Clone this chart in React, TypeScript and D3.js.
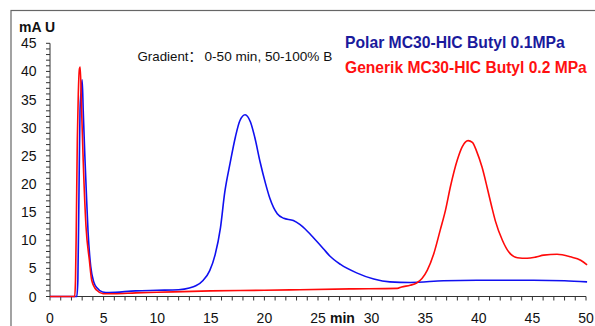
import React from 'react';
import { scaleLinear, line, curveMonotoneX, range } from 'd3';

// retention time (min) / absorbance (mAU)
const blueTime = [0, 2.5, 2.6, 2.7, 2.8, 2.9, 3.0, 3.1, 3.25, 3.4, 3.55, 3.8, 4.1, 4.4, 4.9, 5.5, 8, 10, 12, 13, 13.6, 14.3, 14.9, 15.4, 15.9, 16.3, 16.8, 17.3, 17.7, 18.2, 18.7, 19.1, 19.6, 20.1, 20.5, 21.2, 21.8, 22.7, 23.3, 23.8, 24.6, 25.5, 26.1, 27.1, 28.6, 30.2, 31.7, 33.6, 36.7, 39.8, 45.1, 48, 50.1];
const blueValue = [0, 0, 3, 18, 33, 36.5, 38.5, 33, 25, 18, 11.5, 5.3, 2.5, 1.5, 0.8, 0.7, 1.0, 1.1, 1.2, 1.5, 1.9, 2.9, 4.6, 7.4, 12.2, 18.5, 23.7, 28.4, 31.2, 32.3, 31.0, 28.3, 23.9, 20.1, 17.5, 14.7, 13.9, 13.5, 12.8, 12.0, 10.4, 8.5, 7.2, 5.7, 4.2, 3.1, 2.6, 2.5, 2.8, 2.9, 2.9, 2.8, 2.6];

const redTime = [0, 2.3, 2.38, 2.45, 2.55, 2.64, 2.75, 2.82, 2.95, 3.1, 3.36, 3.67, 3.89, 4.36, 4.95, 6, 8, 10, 15, 20, 23.3, 28, 32.4, 32.8, 33.6, 34.2, 34.7, 35.2, 35.8, 36.4, 36.9, 37.35, 38.0, 38.45, 39.0, 39.4, 39.8, 40.3, 40.8, 41.2, 41.55, 42.2, 42.8, 43.6, 44.5, 45.3, 46.06, 47.3, 48.55, 49.5, 50.1];
const redValue = [0, 0, 3, 12, 28, 36, 40.5, 40.8, 33, 24, 12.4, 6.5, 2.9, 1.1, 0.5, 0.5, 0.65, 0.75, 1.0, 1.1, 1.2, 1.35, 1.45, 1.7, 2.0, 2.4, 3.2, 4.7, 7.6, 11.8, 15.4, 19.5, 24.3, 26.6, 27.7, 27.4, 25.8, 23.0, 19.2, 16.0, 13.4, 10, 7.9, 6.9, 6.8, 7.0, 7.35, 7.5, 7.05, 6.45, 5.6];

const xTicks = [0, 5, 10, 15, 20, 25, 30, 35, 40, 45, 50];
const yTicks = [0, 5, 10, 15, 20, 25, 30, 35, 40, 45];

const legendBlue = 'Polar MC30-HIC Butyl 0.1MPa';
const legendRed = 'Generik MC30-HIC Butyl 0.2 MPa';
const gradientLabel = 'Gradient：';
const gradientRange = '0-50 min, 50-100% B';

const W = 595;
const H = 326;
const font = '"Liberation Sans", Arial, "Noto Sans CJK SC", sans-serif';

export default function App() {
    const x = scaleLinear().domain([0, 50]).range([50, 586]);
    const y = scaleLinear().domain([0, 45]).range([296.5, 43.3]);

    const trace = (ts: number[], vs: number[]) =>
        line<number>()
            .x((d, i) => x(ts[i]))
            .y((d) => y(d))
            .curve(curveMonotoneX)(vs) || '';

    const minorX = range(0, 51, 1);
    const minorY = range(0, 46, 1);

    return (
        <svg width={W} height={H} style={{ position: 'absolute', left: 0, top: 0, background: '#fff' }} fontFamily={font}>
            {/* outer frame, cut off by the image at right and bottom */}
            <rect x={11} y={10.5} width={620} height={340} fill="none" stroke="#666" strokeWidth={1.2} />

            {/* y axis */}
            <line x1={50} x2={50} y1={y(45)} y2={y(0)} stroke="#333" strokeWidth={1} />
            {minorY.map((v) => (
                <line key={'my' + v} x1={46} x2={50} y1={y(v)} y2={y(v)} stroke="#333" strokeWidth={1} />
            ))}
            {yTicks.map((v) => (
                <text key={'ty' + v} x={36.5} y={y(v)} dy="0.36em" textAnchor="end" fontSize={14} fill="#111">
                    {v}
                </text>
            ))}

            {/* x axis */}
            <line x1={x(0)} x2={x(50)} y1={y(0)} y2={y(0)} stroke="#333" strokeWidth={1} />
            {minorX.map((t) => (
                <line key={'mx' + t} x1={x(t)} x2={x(t)} y1={y(0)} y2={y(0) + 4} stroke="#333" strokeWidth={1} />
            ))}
            {xTicks.map((t) => (
                <text key={'tx' + t} x={x(t)} y={323} textAnchor="middle" fontSize={14} fill="#111">
                    {t}
                </text>
            ))}

            <text x={19} y={32} fontSize={14} fontWeight="bold" fill="#111">mA U</text>
            <text x={330} y={323} fontSize={14} fontWeight="bold" fill="#111">min</text>

            <text x={137.5} y={60.5} fontSize={13.3} fill="#111">{gradientLabel}</text>
            <text x={204.5} y={60.5} fontSize={13.6} fill="#111">{gradientRange}</text>
            <text x={345} y={48.3} fontSize={15.7} fontWeight="bold" fill="#1a1a9c">{legendBlue}</text>
            <text x={345} y={73.3} fontSize={15.6} fontWeight="bold" fill="#ff1010">{legendRed}</text>

            <path d={trace(blueTime, blueValue)} fill="none" stroke="#1010f0" strokeWidth={1.6} strokeLinejoin="round" />
            <path d={trace(redTime, redValue)} fill="none" stroke="#ff0a0a" strokeWidth={1.6} strokeLinejoin="round" />
        </svg>
    );
}
